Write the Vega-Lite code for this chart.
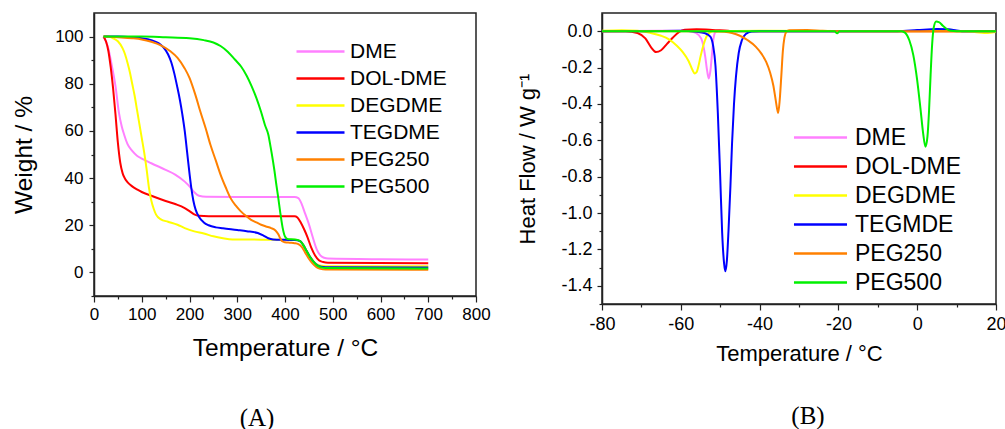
{
  "$schema": "https://vega.github.io/schema/vega-lite/v6.json",
  "background": "white",
  "padding": {"left": 10, "top": 12, "right": 0, "bottom": 0},
  "config": {
    "view": {"stroke": "#222222", "strokeWidth": 1.5},
    "font": "Liberation Sans",
    "concat": {"spacing": 25}
  },
  "datasets": {
    "tga": [
      {"s":"DME","t":20,"w":100},{"s":"DME","t":30,"w":95},{"s":"DME","t":37,"w":88},{"s":"DME","t":45,"w":79},{"s":"DME","t":52,"w":68},{"s":"DME","t":58,"w":62},{"s":"DME","t":63,"w":58.5},{"s":"DME","t":70,"w":54.5},{"s":"DME","t":80,"w":51.5},{"s":"DME","t":90,"w":49.5},{"s":"DME","t":100,"w":48.3},{"s":"DME","t":120,"w":46.3},{"s":"DME","t":150,"w":43.5},{"s":"DME","t":170,"w":41.5},{"s":"DME","t":190,"w":38.5},{"s":"DME","t":200,"w":36.5},{"s":"DME","t":210,"w":34},{"s":"DME","t":220,"w":32.5},{"s":"DME","t":235,"w":32.1},{"s":"DME","t":300,"w":32},{"s":"DME","t":420,"w":32},{"s":"DME","t":428,"w":31.5},{"s":"DME","t":435,"w":29},{"s":"DME","t":442,"w":25},{"s":"DME","t":450,"w":20.5},{"s":"DME","t":458,"w":15},{"s":"DME","t":466,"w":10},{"s":"DME","t":474,"w":7.2},{"s":"DME","t":482,"w":6.2},{"s":"DME","t":490,"w":5.9},{"s":"DME","t":600,"w":5.6},{"s":"DME","t":700,"w":5.5},
      {"s":"DOL-DME","t":20,"w":100},{"s":"DOL-DME","t":25,"w":98},{"s":"DOL-DME","t":30,"w":94},{"s":"DOL-DME","t":35,"w":87},{"s":"DOL-DME","t":40,"w":78},{"s":"DOL-DME","t":45,"w":67},{"s":"DOL-DME","t":50,"w":55},{"s":"DOL-DME","t":55,"w":46.5},{"s":"DOL-DME","t":60,"w":42},{"s":"DOL-DME","t":65,"w":39.7},{"s":"DOL-DME","t":70,"w":38.3},{"s":"DOL-DME","t":80,"w":36.5},{"s":"DOL-DME","t":90,"w":35.2},{"s":"DOL-DME","t":100,"w":34.1},{"s":"DOL-DME","t":120,"w":32.5},{"s":"DOL-DME","t":150,"w":30.3},{"s":"DOL-DME","t":170,"w":29},{"s":"DOL-DME","t":190,"w":27.3},{"s":"DOL-DME","t":200,"w":26},{"s":"DOL-DME","t":210,"w":24.6},{"s":"DOL-DME","t":220,"w":24},{"s":"DOL-DME","t":240,"w":23.8},{"s":"DOL-DME","t":420,"w":23.8},{"s":"DOL-DME","t":426,"w":23.3},{"s":"DOL-DME","t":433,"w":21.2},{"s":"DOL-DME","t":440,"w":18.3},{"s":"DOL-DME","t":447,"w":15},{"s":"DOL-DME","t":455,"w":10.5},{"s":"DOL-DME","t":463,"w":7.2},{"s":"DOL-DME","t":471,"w":5.2},{"s":"DOL-DME","t":480,"w":4.4},{"s":"DOL-DME","t":490,"w":4.1},{"s":"DOL-DME","t":700,"w":3.9},
      {"s":"DEGDME","t":20,"w":100},{"s":"DEGDME","t":30,"w":100},{"s":"DEGDME","t":40,"w":99.3},{"s":"DEGDME","t":50,"w":98},{"s":"DEGDME","t":60,"w":95},{"s":"DEGDME","t":65,"w":92.5},{"s":"DEGDME","t":70,"w":89},{"s":"DEGDME","t":75,"w":85},{"s":"DEGDME","t":80,"w":80},{"s":"DEGDME","t":85,"w":75},{"s":"DEGDME","t":90,"w":69},{"s":"DEGDME","t":95,"w":63},{"s":"DEGDME","t":100,"w":57},{"s":"DEGDME","t":105,"w":51},{"s":"DEGDME","t":110,"w":44},{"s":"DEGDME","t":115,"w":36},{"s":"DEGDME","t":120,"w":30.5},{"s":"DEGDME","t":125,"w":27},{"s":"DEGDME","t":130,"w":24.5},{"s":"DEGDME","t":140,"w":22.5},{"s":"DEGDME","t":155,"w":21.5},{"s":"DEGDME","t":175,"w":20.2},{"s":"DEGDME","t":190,"w":18.8},{"s":"DEGDME","t":210,"w":17.4},{"s":"DEGDME","t":230,"w":16.5},{"s":"DEGDME","t":250,"w":15.3},{"s":"DEGDME","t":270,"w":14.5},{"s":"DEGDME","t":290,"w":14},{"s":"DEGDME","t":350,"w":13.9},{"s":"DEGDME","t":420,"w":13.8},{"s":"DEGDME","t":432,"w":13.3},{"s":"DEGDME","t":438,"w":11.8},{"s":"DEGDME","t":445,"w":9.3},{"s":"DEGDME","t":452,"w":6.8},{"s":"DEGDME","t":460,"w":4.7},{"s":"DEGDME","t":468,"w":3.3},{"s":"DEGDME","t":476,"w":2.8},{"s":"DEGDME","t":485,"w":2.6},{"s":"DEGDME","t":700,"w":2.6},
      {"s":"TEGDME","t":20,"w":100},{"s":"TEGDME","t":50,"w":100},{"s":"TEGDME","t":80,"w":99.7},{"s":"TEGDME","t":100,"w":99.3},{"s":"TEGDME","t":120,"w":98.5},{"s":"TEGDME","t":135,"w":97.2},{"s":"TEGDME","t":145,"w":95.5},{"s":"TEGDME","t":155,"w":92.5},{"s":"TEGDME","t":162,"w":89},{"s":"TEGDME","t":168,"w":84.5},{"s":"TEGDME","t":174,"w":79},{"s":"TEGDME","t":180,"w":73},{"s":"TEGDME","t":185,"w":67},{"s":"TEGDME","t":190,"w":60},{"s":"TEGDME","t":195,"w":51},{"s":"TEGDME","t":200,"w":42},{"s":"TEGDME","t":204,"w":35.5},{"s":"TEGDME","t":208,"w":30.5},{"s":"TEGDME","t":213,"w":26.5},{"s":"TEGDME","t":220,"w":23.5},{"s":"TEGDME","t":230,"w":21.2},{"s":"TEGDME","t":240,"w":20},{"s":"TEGDME","t":255,"w":19.1},{"s":"TEGDME","t":270,"w":18.7},{"s":"TEGDME","t":300,"w":18},{"s":"TEGDME","t":320,"w":17.5},{"s":"TEGDME","t":343,"w":16.7},{"s":"TEGDME","t":355,"w":15.6},{"s":"TEGDME","t":365,"w":14.5},{"s":"TEGDME","t":375,"w":14},{"s":"TEGDME","t":400,"w":13.8},{"s":"TEGDME","t":420,"w":13.7},{"s":"TEGDME","t":432,"w":13.2},{"s":"TEGDME","t":438,"w":11.7},{"s":"TEGDME","t":445,"w":9.2},{"s":"TEGDME","t":452,"w":6.7},{"s":"TEGDME","t":460,"w":4.5},{"s":"TEGDME","t":468,"w":3},{"s":"TEGDME","t":476,"w":2.4},{"s":"TEGDME","t":485,"w":2.2},{"s":"TEGDME","t":700,"w":2.1},
      {"s":"PEG250","t":20,"w":100},{"s":"PEG250","t":50,"w":99.7},{"s":"PEG250","t":80,"w":99.3},{"s":"PEG250","t":100,"w":98.8},{"s":"PEG250","t":120,"w":97.8},{"s":"PEG250","t":140,"w":96.3},{"s":"PEG250","t":160,"w":93.8},{"s":"PEG250","t":175,"w":91},{"s":"PEG250","t":190,"w":86.5},{"s":"PEG250","t":200,"w":82.5},{"s":"PEG250","t":212,"w":75.5},{"s":"PEG250","t":223,"w":68},{"s":"PEG250","t":234,"w":61},{"s":"PEG250","t":244,"w":54},{"s":"PEG250","t":255,"w":47.5},{"s":"PEG250","t":265,"w":41.5},{"s":"PEG250","t":276,"w":36},{"s":"PEG250","t":286,"w":31.5},{"s":"PEG250","t":297,"w":28.3},{"s":"PEG250","t":307,"w":26},{"s":"PEG250","t":318,"w":24},{"s":"PEG250","t":329,"w":22.3},{"s":"PEG250","t":340,"w":21.2},{"s":"PEG250","t":350,"w":20.2},{"s":"PEG250","t":360,"w":19.5},{"s":"PEG250","t":371,"w":18.8},{"s":"PEG250","t":380,"w":17.8},{"s":"PEG250","t":386,"w":16.2},{"s":"PEG250","t":390,"w":14.5},{"s":"PEG250","t":394,"w":13.2},{"s":"PEG250","t":400,"w":12.8},{"s":"PEG250","t":410,"w":12.6},{"s":"PEG250","t":420,"w":12.4},{"s":"PEG250","t":428,"w":12},{"s":"PEG250","t":435,"w":10.8},{"s":"PEG250","t":442,"w":8.5},{"s":"PEG250","t":450,"w":5.8},{"s":"PEG250","t":458,"w":3.7},{"s":"PEG250","t":466,"w":2.2},{"s":"PEG250","t":474,"w":1.5},{"s":"PEG250","t":485,"w":1.2},{"s":"PEG250","t":700,"w":1.1},
      {"s":"PEG500","t":20,"w":100},{"s":"PEG500","t":100,"w":100},{"s":"PEG500","t":150,"w":99.7},{"s":"PEG500","t":200,"w":99.3},{"s":"PEG500","t":230,"w":98.5},{"s":"PEG500","t":250,"w":97.5},{"s":"PEG500","t":265,"w":96},{"s":"PEG500","t":280,"w":93.6},{"s":"PEG500","t":295,"w":90.3},{"s":"PEG500","t":308,"w":87.3},{"s":"PEG500","t":320,"w":83.3},{"s":"PEG500","t":330,"w":79},{"s":"PEG500","t":340,"w":74},{"s":"PEG500","t":350,"w":68},{"s":"PEG500","t":358,"w":62.5},{"s":"PEG500","t":365,"w":58.5},{"s":"PEG500","t":370,"w":53},{"s":"PEG500","t":375,"w":47},{"s":"PEG500","t":378,"w":43},{"s":"PEG500","t":382,"w":37},{"s":"PEG500","t":386,"w":31.5},{"s":"PEG500","t":390,"w":25.5},{"s":"PEG500","t":395,"w":19},{"s":"PEG500","t":400,"w":15.2},{"s":"PEG500","t":405,"w":14.2},{"s":"PEG500","t":420,"w":14},{"s":"PEG500","t":430,"w":13.5},{"s":"PEG500","t":437,"w":12},{"s":"PEG500","t":444,"w":9.5},{"s":"PEG500","t":451,"w":7},{"s":"PEG500","t":459,"w":4.7},{"s":"PEG500","t":467,"w":3},{"s":"PEG500","t":475,"w":2.2},{"s":"PEG500","t":485,"w":1.9},{"s":"PEG500","t":700,"w":1.7}
    ],
    "dsc": [
      {"s":"DME","t":-80,"h":0},{"s":"DME","t":-60,"h":0.002},{"s":"DME","t":-57,"h":-0.003},{"s":"DME","t":-55.5,"h":-0.02},{"s":"DME","t":-54.5,"h":-0.06},{"s":"DME","t":-53.8,"h":-0.14},{"s":"DME","t":-53.3,"h":-0.22},{"s":"DME","t":-52.9,"h":-0.26},{"s":"DME","t":-52.5,"h":-0.22},{"s":"DME","t":-52.1,"h":-0.13},{"s":"DME","t":-51.7,"h":-0.04},{"s":"DME","t":-51.2,"h":-0.005},{"s":"DME","t":-50.5,"h":0},{"s":"DME","t":20,"h":0},
      {"s":"DOL-DME","t":-80,"h":0},{"s":"DOL-DME","t":-74,"h":0},{"s":"DOL-DME","t":-71,"h":-0.01},{"s":"DOL-DME","t":-69,"h":-0.04},{"s":"DOL-DME","t":-67.5,"h":-0.09},{"s":"DOL-DME","t":-66.3,"h":-0.115},{"s":"DOL-DME","t":-65,"h":-0.105},{"s":"DOL-DME","t":-63.5,"h":-0.07},{"s":"DOL-DME","t":-62,"h":-0.035},{"s":"DOL-DME","t":-60.5,"h":-0.005},{"s":"DOL-DME","t":-59,"h":0.008},{"s":"DOL-DME","t":-56,"h":0.01},{"s":"DOL-DME","t":-52,"h":0.007},{"s":"DOL-DME","t":-48,"h":0.002},{"s":"DOL-DME","t":-45,"h":0},{"s":"DOL-DME","t":20,"h":0},
      {"s":"DEGDME","t":-80,"h":0.002},{"s":"DEGDME","t":-75,"h":0.005},{"s":"DEGDME","t":-71,"h":0.003},{"s":"DEGDME","t":-68,"h":-0.008},{"s":"DEGDME","t":-65,"h":-0.025},{"s":"DEGDME","t":-63,"h":-0.045},{"s":"DEGDME","t":-61,"h":-0.08},{"s":"DEGDME","t":-59.5,"h":-0.115},{"s":"DEGDME","t":-58,"h":-0.165},{"s":"DEGDME","t":-57,"h":-0.215},{"s":"DEGDME","t":-56.5,"h":-0.232},{"s":"DEGDME","t":-56,"h":-0.225},{"s":"DEGDME","t":-55.5,"h":-0.19},{"s":"DEGDME","t":-55,"h":-0.14},{"s":"DEGDME","t":-54.3,"h":-0.08},{"s":"DEGDME","t":-53.6,"h":-0.035},{"s":"DEGDME","t":-52.8,"h":-0.01},{"s":"DEGDME","t":-52,"h":0},{"s":"DEGDME","t":-40,"h":0.002},{"s":"DEGDME","t":0,"h":0},{"s":"DEGDME","t":12,"h":0},{"s":"DEGDME","t":15,"h":-0.006},{"s":"DEGDME","t":17,"h":-0.01},{"s":"DEGDME","t":19,"h":-0.007},{"s":"DEGDME","t":20,"h":-0.004},
      {"s":"TEGMDE","t":-80,"h":0},{"s":"TEGMDE","t":-70,"h":0},{"s":"TEGMDE","t":-60,"h":0.002},{"s":"TEGMDE","t":-56,"h":-0.003},{"s":"TEGMDE","t":-54,"h":-0.01},{"s":"TEGMDE","t":-52.5,"h":-0.03},{"s":"TEGMDE","t":-51.8,"h":-0.08},{"s":"TEGMDE","t":-51.2,"h":-0.19},{"s":"TEGMDE","t":-50.6,"h":-0.45},{"s":"TEGMDE","t":-50,"h":-0.8},{"s":"TEGMDE","t":-49.5,"h":-1.11},{"s":"TEGMDE","t":-49,"h":-1.28},{"s":"TEGMDE","t":-48.7,"h":-1.32},{"s":"TEGMDE","t":-48.3,"h":-1.26},{"s":"TEGMDE","t":-47.9,"h":-1.1},{"s":"TEGMDE","t":-47.4,"h":-0.85},{"s":"TEGMDE","t":-47,"h":-0.62},{"s":"TEGMDE","t":-46.5,"h":-0.4},{"s":"TEGMDE","t":-46,"h":-0.25},{"s":"TEGMDE","t":-45.3,"h":-0.12},{"s":"TEGMDE","t":-44.5,"h":-0.05},{"s":"TEGMDE","t":-43.5,"h":-0.015},{"s":"TEGMDE","t":-42,"h":-0.002},{"s":"TEGMDE","t":-40,"h":0},{"s":"TEGMDE","t":-5,"h":0},{"s":"TEGMDE","t":0,"h":0.006},{"s":"TEGMDE","t":5,"h":0.012},{"s":"TEGMDE","t":8,"h":0.01},{"s":"TEGMDE","t":10,"h":0.004},{"s":"TEGMDE","t":12,"h":0},{"s":"TEGMDE","t":20,"h":0},
      {"s":"PEG250","t":-80,"h":0},{"s":"PEG250","t":-52,"h":0},{"s":"PEG250","t":-49,"h":-0.003},{"s":"PEG250","t":-47,"h":-0.01},{"s":"PEG250","t":-45,"h":-0.025},{"s":"PEG250","t":-43,"h":-0.05},{"s":"PEG250","t":-41,"h":-0.085},{"s":"PEG250","t":-39.5,"h":-0.125},{"s":"PEG250","t":-38.3,"h":-0.17},{"s":"PEG250","t":-37.3,"h":-0.23},{"s":"PEG250","t":-36.5,"h":-0.3},{"s":"PEG250","t":-35.9,"h":-0.38},{"s":"PEG250","t":-35.3,"h":-0.45},{"s":"PEG250","t":-34.9,"h":-0.38},{"s":"PEG250","t":-34.5,"h":-0.25},{"s":"PEG250","t":-34.1,"h":-0.11},{"s":"PEG250","t":-33.7,"h":-0.035},{"s":"PEG250","t":-33.2,"h":-0.003},{"s":"PEG250","t":-32.5,"h":0.005},{"s":"PEG250","t":-28,"h":0.006},{"s":"PEG250","t":-24,"h":0.002},{"s":"PEG250","t":-20,"h":0},{"s":"PEG250","t":20,"h":0},
      {"s":"PEG500","t":-80,"h":0},{"s":"PEG500","t":-21,"h":0},{"s":"PEG500","t":-20.3,"h":-0.012},{"s":"PEG500","t":-19.7,"h":0},{"s":"PEG500","t":-4,"h":0},{"s":"PEG500","t":-3,"h":-0.01},{"s":"PEG500","t":-2,"h":-0.05},{"s":"PEG500","t":-1,"h":-0.13},{"s":"PEG500","t":0,"h":-0.27},{"s":"PEG500","t":0.8,"h":-0.42},{"s":"PEG500","t":1.5,"h":-0.56},{"s":"PEG500","t":2.1,"h":-0.635},{"s":"PEG500","t":2.6,"h":-0.58},{"s":"PEG500","t":3,"h":-0.44},{"s":"PEG500","t":3.4,"h":-0.24},{"s":"PEG500","t":3.8,"h":-0.07},{"s":"PEG500","t":4.2,"h":0.02},{"s":"PEG500","t":4.8,"h":0.053},{"s":"PEG500","t":5.5,"h":0.05},{"s":"PEG500","t":6.5,"h":0.03},{"s":"PEG500","t":7.5,"h":0.012},{"s":"PEG500","t":8.5,"h":0.002},{"s":"PEG500","t":10,"h":0},{"s":"PEG500","t":20,"h":0}
    ]
  },
  "hconcat": [
    {
      "width": 382,
      "height": 283,
      "title": {"text": "(A)", "orient": "bottom", "font": "Liberation Serif", "fontSize": 25, "fontWeight": "normal", "color": "black", "dx": -28, "offset": 46},
      "data": {"name": "tga"},
      "mark": {"type": "line", "interpolate": "monotone", "strokeWidth": 2, "clip": true},
      "encoding": {
        "x": {
          "field": "t", "type": "quantitative",
          "scale": {"domain": [0, 800], "nice": false, "zero": false},
          "axis": {
            "title": "Temperature / °C",
            "values": [0,50,100,150,200,250,300,350,400,450,500,550,600,650,700,750,800],
            "labelExpr": "datum.value % 100 == 0 ? datum.label : ''",
            "tickSize": {"condition": {"test": "datum.value % 100 == 0", "value": 6}, "value": 3},
            "grid": false, "labelFlush": false, "labelOverlap": false,
            "labelFontSize": 17, "labelColor": "black", "labelPadding": 4,
            "titleFontSize": 24.5, "titleFontWeight": "normal", "titleColor": "black", "titlePadding": 14,
            "domainColor": "#222222", "domainWidth": 1.5, "tickColor": "#222222", "tickWidth": 1.2
          }
        },
        "y": {
          "field": "w", "type": "quantitative",
          "scale": {"domain": [-10, 110], "nice": false, "zero": false},
          "axis": {
            "title": "Weight / %",
            "values": [-10,0,10,20,30,40,50,60,70,80,90,100],
            "labelExpr": "datum.value % 20 == 0 ? datum.label : ''",
            "tickSize": {"condition": {"test": "datum.value % 20 == 0", "value": 5}, "value": 3},
            "grid": false, "labelFlush": false, "labelOverlap": false,
            "labelFontSize": 17, "labelColor": "black", "labelPadding": 6,
            "titleFontSize": 24.5, "titleFontWeight": "normal", "titleColor": "black", "titlePadding": 18,
            "domainColor": "#222222", "domainWidth": 1.5, "tickColor": "#222222", "tickWidth": 1.2
          }
        },
        "color": {
          "field": "s", "type": "nominal",
          "scale": {"domain": ["DME","DOL-DME","DEGDME","TEGDME","PEG250","PEG500"], "range": ["#FF80FF","#FF0000","#FFFF00","#0000FF","#FF8000","#00F000"]},
          "legend": {
            "orient": "none", "legendX": 216, "legendY": 28, "title": null,
            "symbolType": "M-4,0H4", "symbolSize": 144, "symbolStrokeWidth": 2.5,
            "labelFontSize": 21, "labelColor": "black", "labelOffset": 19, "rowPadding": 5, "padding": 0
          }
        }
      }
    },
    {
      "width": 394,
      "height": 291,
      "title": {"text": "(B)", "orient": "bottom", "font": "Liberation Serif", "fontSize": 25, "fontWeight": "normal", "color": "black", "dx": 9, "offset": 40},
      "data": {"name": "dsc"},
      "mark": {"type": "line", "interpolate": "monotone", "strokeWidth": 2, "clip": true},
      "encoding": {
        "x": {
          "field": "t", "type": "quantitative",
          "scale": {"domain": [-80, 20], "nice": false, "zero": false},
          "axis": {
            "title": "Temperature / °C",
            "values": [-80,-70,-60,-50,-40,-30,-20,-10,0,10,20],
            "labelExpr": "datum.value % 20 == 0 ? replace(format(datum.value, 'd'), '\u2212', '-') : ''",
            "tickSize": {"condition": {"test": "datum.value % 20 == 0", "value": 6}, "value": 3},
            "grid": false, "labelFlush": false, "labelOverlap": false,
            "labelFontSize": 18, "labelColor": "black", "labelPadding": 5,
            "titleFontSize": 22, "titleFontWeight": "normal", "titleColor": "black", "titlePadding": 10,
            "domainColor": "#222222", "domainWidth": 1.5, "tickColor": "#222222", "tickWidth": 1.2
          }
        },
        "y": {
          "field": "h", "type": "quantitative",
          "scale": {"domain": [-1.5, 0.1], "nice": false, "zero": false},
          "axis": {
            "title": "Heat Flow / W g⁻¹",
            "values": [-1.5,-1.4,-1.3,-1.2,-1.1,-1.0,-0.9,-0.8,-0.7,-0.6,-0.5,-0.4,-0.3,-0.2,-0.1,0],
            "labelExpr": "abs(round(datum.value*10)) % 2 == 0 ? replace(format(datum.value, '.1f'), '\u2212', '-') : ''",
            "tickSize": {"condition": {"test": "abs(round(datum.value*10)) % 2 == 0", "value": 5}, "value": 3},
            "grid": false, "labelFlush": false, "labelOverlap": false,
            "labelFontSize": 18, "labelColor": "black", "labelPadding": 5,
            "titleFontSize": 22, "titleFontWeight": "normal", "titleColor": "black", "titlePadding": 21,
            "domainColor": "#222222", "domainWidth": 1.5, "tickColor": "#222222", "tickWidth": 1.2
          }
        },
        "color": {
          "field": "s", "type": "nominal",
          "scale": {"domain": ["DME","DOL-DME","DEGDME","TEGMDE","PEG250","PEG500"], "range": ["#FF80FF","#FF0000","#FFFF00","#0000FF","#FF8000","#00F000"]},
          "legend": {
            "orient": "none", "legendX": 207, "legendY": 113, "title": null,
            "symbolType": "M-4,0H4", "symbolSize": 176, "symbolStrokeWidth": 2.5,
            "labelFontSize": 23, "labelColor": "black", "labelOffset": 23, "rowPadding": 5, "padding": 0
          }
        }
      }
    }
  ],
  "resolve": {"scale": {"color": "independent"}}
}
